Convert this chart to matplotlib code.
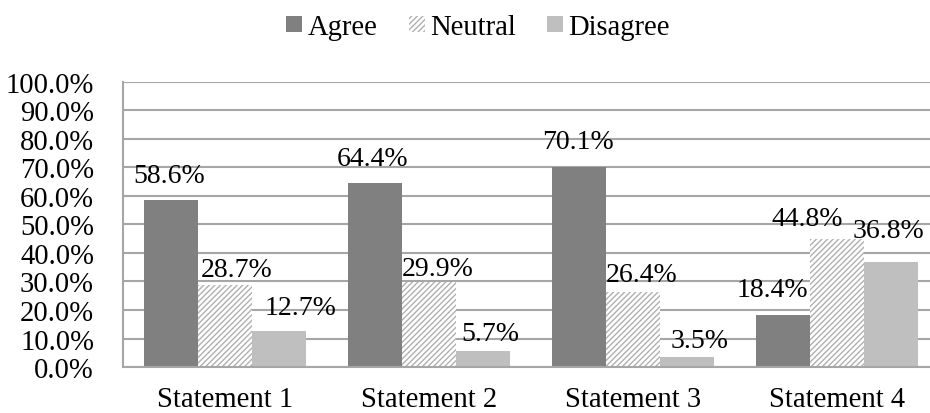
import matplotlib.pyplot as plt
import numpy as np

plt.rcParams["font.family"] = ["Liberation Serif", "DejaVu Serif"]
plt.rcParams["hatch.linewidth"] = 1.0

statements = ["Statement 1", "Statement 2", "Statement 3", "Statement 4"]
agree = [58.6, 64.4, 70.1, 18.4]
neutral = [28.7, 29.9, 26.4, 44.8]
disagree = [12.7, 5.7, 3.5, 36.8]

# label nudges in pixels (dx, gap above bar top), as placed in the original
agree_offsets = [(-2, 18), (-2, 18), (-1, 19), (-10, 19)]
neutral_offsets = [(11, 9), (9, 7), (9, 11), (-30, 14)]
disagree_offsets = [(21, 17), (7, 11), (13, 10), (-2, 25)]

fig = plt.figure(figsize=(9.3, 4.14), dpi=100)
ax = fig.add_axes([0.1325, 0.111, 0.877, 0.689])

x = np.arange(len(statements))
width = 0.265
fs = 20.6

b1 = ax.bar(x - width, agree, width, color="#808080", label="Agree", zorder=2)
b2 = ax.bar(x, neutral, width, color="white", edgecolor="#b0b0b0", linewidth=0,
            hatch="//////", label="Neutral", zorder=2)
b3 = ax.bar(x + width, disagree, width, color="#bfbfbf", label="Disagree", zorder=2)

for bars, vals, offs in [(b1, agree, agree_offsets),
                         (b2, neutral, neutral_offsets),
                         (b3, disagree, disagree_offsets)]:
    for rect, v, (dx, gap) in zip(bars, vals, offs):
        ax.annotate(f"{v:.1f}%", (rect.get_x() + rect.get_width() / 2, rect.get_height()),
                    xytext=(dx, gap), textcoords="offset pixels",
                    ha="center", va="baseline", fontsize=20, zorder=3)

ax.set_xlim(-0.5, 3.5)
ax.set_ylim(0, 100)
ax.set_yticks(np.arange(0, 101, 10))
ax.set_yticklabels([f"{v:.1f}%" for v in range(0, 101, 10)], fontsize=fs)
ax.set_xticks(x)
ax.set_xticklabels(statements, fontsize=fs)
ax.tick_params(axis="both", length=0)
ax.tick_params(axis="y", pad=21)
ax.tick_params(axis="x", pad=14)

ax.grid(axis="y", color="#a6a6a6", linewidth=1.5, zorder=0)
ax.set_axisbelow(True)
for side in ["top", "right"]:
    ax.spines[side].set_visible(False)
for side in ["left", "bottom"]:
    ax.spines[side].set_color("#a6a6a6")
    ax.spines[side].set_linewidth(1.5)

fig.legend(handles=[b1, b2, b3], loc="center", bbox_to_anchor=(0.514, 0.932),
           ncol=3, frameon=False, fontsize=fs, handlelength=0.56, handleheight=0.46,
           handletextpad=0.18, columnspacing=1.1)

fig.savefig("out.png", dpi=100)
